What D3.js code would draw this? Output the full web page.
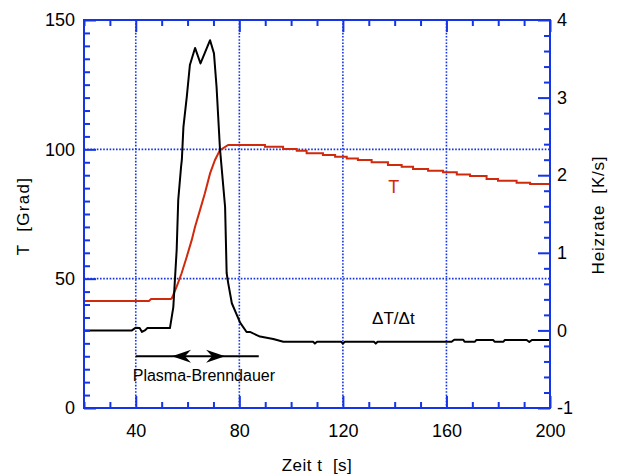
<!DOCTYPE html>
<html>
<head>
<meta charset="utf-8">
<script src="https://cdn.jsdelivr.net/npm/d3@7"></script>
<style>
  body { margin: 0; background: #fff; }
  svg text { font-family: "Liberation Sans", Arial, Helvetica, sans-serif; white-space: pre; }
</style>
</head>
<body>
<div id="chart"></div>
<script>
// Temperatur T [Grad] (linke Achse) ueber Zeit t [s]
const tempSeries = [
  [20, 41.4], [45.1, 41.4], [45.9, 42.1], [53.5, 42.1], [53.9, 42.4],
  [55.8, 46.9], [57.7, 52.1], [59.7, 58.5], [61.6, 64.9], [62.9, 70.1],
  [64.8, 76.5], [66.7, 83.0], [68.7, 90.7], [70.6, 95.9], [72.5, 99.7],
  [75.7, 101.7], [89.9, 101.7], [89.9, 101.0], [96.9, 101.0], [96.9, 100.1],
  [102.2, 100.1], [102.2, 99.5], [106.0, 99.5], [106.0, 98.5], [112.3, 98.5],
  [112.3, 97.8], [117.0, 97.8], [117.0, 97.1], [121.5, 97.1], [121.5, 96.5],
  [125.8, 96.5], [125.8, 95.9], [131.1, 95.9], [131.1, 95.0], [137.4, 95.0],
  [137.4, 93.9], [142.7, 93.9], [142.7, 93.3], [147.1, 93.3], [147.1, 92.4],
  [152.9, 92.4], [152.9, 91.7], [158.7, 91.7], [158.7, 91.1], [164.0, 91.1],
  [164.0, 90.3], [169.1, 90.3], [169.1, 89.7], [175.5, 89.7], [175.5, 88.5],
  [179.9, 88.5], [179.9, 87.9], [187.1, 87.9], [187.1, 87.1], [192.3, 87.1],
  [192.3, 86.6], [200, 86.6]
];

// Heizrate dT/dt [K/s] (rechte Achse)
const rateSeries = [
  [20, 0], [38.5, 0], [40, 0.035], [41.5, 0.03], [42.4, -0.02], [43.5, 0.0],
  [44.5, 0.03], [53.2, 0.03], [54.5, 0.3], [55.8, 1.04], [56.4, 1.68],
  [57.5, 2.11], [57.8, 2.2], [58.4, 2.62], [59.7, 3.01], [60.9, 3.42],
  [62.9, 3.64], [65.0, 3.44], [68.7, 3.74], [70.2, 3.57], [71.2, 3.14],
  [72.5, 2.35], [74.5, 1.59], [75.1, 0.74], [75.7, 0.61], [77.1, 0.35],
  [80.3, 0.1], [82.8, -0.02], [84.1, -0.02], [86.7, -0.06], [88, -0.08],
  [93.1, -0.11], [97, -0.146], [108.5, -0.146], [109.2, -0.17], [110, -0.146],
  [119.3, -0.146], [120, -0.17], [120.8, -0.146], [132, -0.146], [132.7, -0.17],
  [133.4, -0.146], [162, -0.146], [163, -0.12], [166.5, -0.12], [167, -0.146],
  [171, -0.146], [171.5, -0.124], [178.1, -0.124], [178.6, -0.146], [182, -0.146],
  [182.5, -0.124], [191, -0.124], [192, -0.15], [193, -0.124], [200, -0.124]
];

const xDomain = [20, 200];
const leftDomain = [0, 150];
const rightDomain = [-1, 4];
const xTickLabels = [40, 80, 120, 160, 200];
const leftTickLabels = [0, 50, 100, 150];
const rightTickLabels = [-1, 0, 1, 2, 3, 4];
const xGrid = [40, 80, 120, 160];
const leftGrid = [50, 100];

// Plasma-Brenndauer Pfeil (t-Werte, T-Niveau)
const burnSpan = [40, 87.5];
const burnArrowTips = [54, 74.5];
const burnLevel = 20;

const width = 617, height = 474;
const margin = { top: 20, right: 67, bottom: 66, left: 84 };
const w = width - margin.left - margin.right;
const h = height - margin.top - margin.bottom;

const blue = "#1434e6";
const red = "#d02a0c";

const svg = d3.select("#chart").append("svg")
  .attr("width", width)
  .attr("height", height);

const g = svg.append("g").attr("transform", `translate(${margin.left},${margin.top})`);

const x = d3.scaleLinear().domain(xDomain).range([0, w]);
const yL = d3.scaleLinear().domain(leftDomain).range([h, 0]);
const yR = d3.scaleLinear().domain(rightDomain).range([h, 0]);

// gridlines
g.selectAll(".vgrid").data(xGrid).join("line")
  .attr("x1", d => x(d)).attr("x2", d => x(d))
  .attr("y1", 0).attr("y2", h)
  .attr("stroke", blue).attr("stroke-width", 1.6)
  .attr("stroke-dasharray", "1.6,1.6");
g.selectAll(".hgrid").data(leftGrid).join("line")
  .attr("x1", 0).attr("x2", w)
  .attr("y1", d => yL(d)).attr("y2", d => yL(d))
  .attr("stroke", blue).attr("stroke-width", 1.6)
  .attr("stroke-dasharray", "1.6,1.6");

// curves
g.append("path").datum(tempSeries)
  .attr("fill", "none").attr("stroke", red).attr("stroke-width", 2)
  .attr("d", d3.line().x(d => x(d[0])).y(d => yL(d[1])));

g.append("path").datum(rateSeries)
  .attr("fill", "none").attr("stroke", "#000").attr("stroke-width", 2)
  .attr("stroke-linejoin", "round")
  .attr("d", d3.line().x(d => x(d[0])).y(d => yR(d[1])));

// axes
const plain = d => String(d);

function styleAxis(sel) {
  sel.select(".domain").remove();
  sel.selectAll(".tick line").attr("stroke", blue).attr("stroke-width", 2);
  sel.selectAll(".tick text").attr("fill", "#000").style("font-size", "18px");
}

const minorX = d3.range(20, 201, 10).filter(v => !xTickLabels.includes(v));
const minorL = d3.range(0, 151, 5).filter(v => !leftTickLabels.includes(v));
const minorR = d3.range(-1, 4.01, 0.2).filter(v => Math.abs(v - Math.round(v)) > 0.01);

g.append("g").attr("transform", `translate(0,${h})`)
  .call(d3.axisBottom(x).tickValues(minorX).tickSize(-6).tickFormat(""))
  .call(styleAxis);
g.append("g").attr("transform", `translate(0,${h})`)
  .call(d3.axisBottom(x).tickValues(xTickLabels).tickSize(-12).tickPadding(16).tickFormat(plain))
  .call(styleAxis);

g.append("g")
  .call(d3.axisTop(x).tickValues(minorX).tickSize(-6).tickFormat(""))
  .call(styleAxis);
g.append("g")
  .call(d3.axisTop(x).tickValues(xTickLabels).tickSize(-12).tickFormat(""))
  .call(styleAxis);

g.append("g")
  .call(d3.axisLeft(yL).tickValues(minorL).tickSize(-6).tickFormat(""))
  .call(styleAxis);
g.append("g")
  .call(d3.axisLeft(yL).tickValues(leftTickLabels).tickSize(-12).tickPadding(9).tickFormat(plain))
  .call(styleAxis);

g.append("g").attr("transform", `translate(${w},0)`)
  .call(d3.axisRight(yR).tickValues(minorR).tickSize(-6).tickFormat(""))
  .call(styleAxis);
g.append("g").attr("transform", `translate(${w},0)`)
  .call(d3.axisRight(yR).tickValues(rightTickLabels).tickSize(-12).tickPadding(7).tickFormat(plain))
  .call(styleAxis);

// frame
g.append("rect")
  .attr("x", 0).attr("y", 0).attr("width", w).attr("height", h)
  .attr("fill", "none").attr("stroke", blue).attr("stroke-width", 2);

// axis titles
svg.append("text")
  .attr("transform", `translate(29,${margin.top + h / 2 + 2}) rotate(-90)`)
  .attr("text-anchor", "middle")
  .style("font-size", "17px").style("letter-spacing", "1.3px")
  .text("T  [Grad]");

svg.append("text")
  .attr("transform", `translate(604,${margin.top + h / 2 + 1}) rotate(-90)`)
  .attr("text-anchor", "middle")
  .style("font-size", "17px").style("letter-spacing", "0.8px")
  .text("Heizrate  [K/s]");

svg.append("text")
  .attr("x", 317).attr("y", 471)
  .attr("text-anchor", "middle")
  .style("font-size", "17px").style("letter-spacing", "0.5px")
  .text("Zeit t  [s]");

// curve labels
g.append("text")
  .attr("x", x(137.5)).attr("y", yL(83.1))
  .attr("fill", red).style("font-size", "18px")
  .text("T");

g.append("text")
  .attr("x", x(139.5)).attr("y", yR(0.08))
  .attr("text-anchor", "middle").style("font-size", "17px")
  .text("ΔT/Δt");

// Plasma-Brenndauer arrow
const ay = yL(burnLevel);
g.append("line")
  .attr("x1", x(burnSpan[0])).attr("x2", x(burnSpan[1]))
  .attr("y1", ay).attr("y2", ay)
  .attr("stroke", "#000").attr("stroke-width", 2);

g.selectAll(".arrowhead").data(burnArrowTips).join("path")
  .attr("d", (d, i) => {
    const tx = x(d), dir = i === 0 ? 1 : -1;
    return `M${tx},${ay} L${tx + dir * 19},${ay - 6.5} L${tx + dir * 13},${ay} L${tx + dir * 19},${ay + 6.5} Z`;
  })
  .attr("fill", "#000");

g.append("text")
  .attr("x", x(66.3)).attr("y", yL(10.4))
  .attr("text-anchor", "middle").style("font-size", "16px")
  .text("Plasma-Brenndauer");
</script>
</body>
</html>
